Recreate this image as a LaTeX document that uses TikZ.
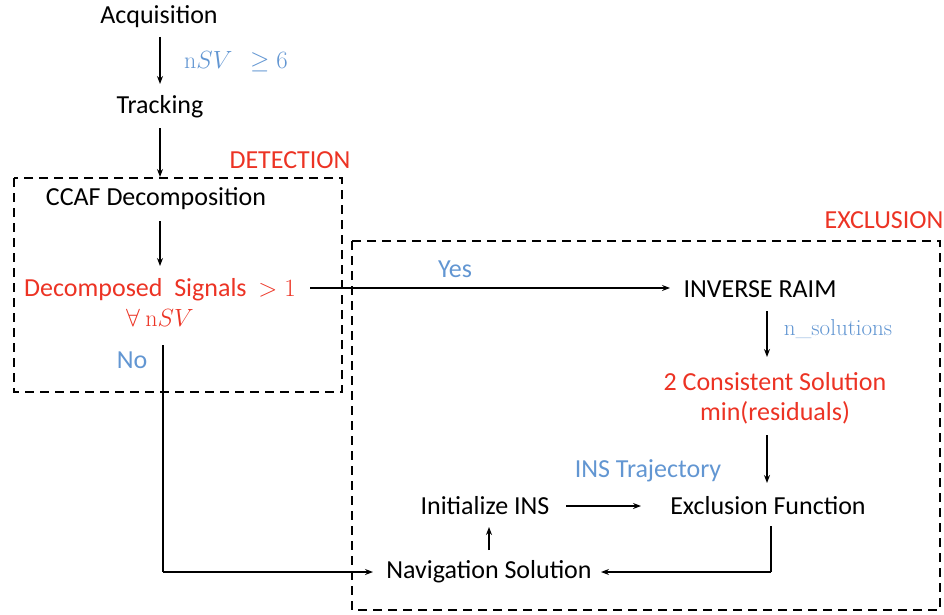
\documentclass[tikz,border=0pt]{standalone}
\usepackage{fontspec}
\setmainfont{Carlito}
\newfontfamily\lmserif{Latin Modern Roman}
\usetikzlibrary{arrows.meta}
\definecolor{myred}{RGB}{236,51,36}
\definecolor{myblue}{RGB}{98,150,210}
\tikzset{
  txt/.style={inner sep=1pt, font=\fontsize{26}{30}\selectfont, text=black},
  rtxt/.style={txt, text=myred, align=center},
  btxt/.style={txt, text=myblue},
  arr/.style={line width=1.2pt, -{Stealth[length=8pt,width=6pt]}},
  ln/.style={line width=1.2pt},
  dbox/.style={line width=2.4pt, dash pattern=on 9pt off 6pt},
}
\begin{document}
\begin{tikzpicture}[x=1pt,y=-1pt]
\useasboundingbox (0,0) rectangle (944,615);
% boxes
\draw[dbox] (14,178) rectangle (342,392);
\draw[dbox] (352,241) rectangle (940,610);
\node[rtxt] (det) at (290,160) {DETECTION};
\node[rtxt] (exc) at (884,220) {EXCLUSION};
% nodes
\node[txt] (acq) at (159,17) {Acquisition};
\node[btxt, font=\fontsize{24}{28}\selectfont] (nsv) at (236,62) {{\lmserif n}$SV\ \ \geq 6$};
\node[txt] (trk) at (160,107) {Tracking};
\node[txt] (ccaf) at (156,199) {CCAF Decomposition};
\node[rtxt] (dec) at (160,302) {Decomposed\ \ Signals\ \ {\fontsize{24}{28}\selectfont$>1$}\\[0pt]{\fontsize{24}{28}\selectfont$\forall\ ${\lmserif n}$SV$}};
\node[btxt] (no) at (132,360) {No};
\node[btxt] (yes) at (455,269) {Yes};
\node[txt] (raim) at (760,289) {INVERSE RAIM};
\node[btxt, font=\lmserif\fontsize{23}{27}\selectfont] (nsol) at (838,329) {n\_solutions};
\node[rtxt] (cons) at (775,398) {2 Consistent Solution\\[0pt]min(residuals)};
\node[btxt] (traj) at (648,471) {INS Trajectory};
\node[txt] (init) at (485,506) {Initialize INS};
\node[txt] (exf) at (768,506) {Exclusion Function};
\node[txt] (nav) at (489,572) {Navigation Solution};
% coordinates
\coordinate (c1) at (163,345);
\coordinate (c2) at (163,572);
\coordinate (c3) at (771,572);
% connectors
\draw[arr] (160,37) -- (160,84);
\draw[arr] (160,128) -- (160,177);
\draw[arr] (160,221) -- (160,266);
\draw[arr] (310,288) -- (670,288);
\draw[arr] (767,311) -- (767,357);
\draw[arr] (767,435) -- (767,483);
\draw[arr] (566,506) -- (641,506);
\draw[arr] (489,550) -- (489,527);
\draw[ln] (c1) -- (c2);
\draw[arr] (c2) -- (373,572);
\draw[ln] (771,526) -- (c3);
\draw[arr] (c3) -- (601,572);
\end{tikzpicture}
\end{document}
